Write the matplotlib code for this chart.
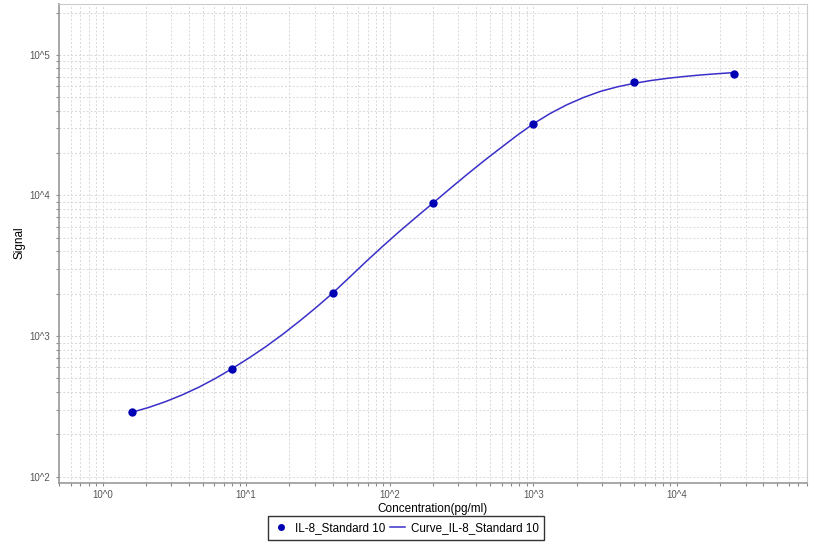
import matplotlib
matplotlib.use('Agg')
import matplotlib.pyplot as plt
from matplotlib.ticker import LogLocator, FuncFormatter, NullFormatter
import numpy as np

plt.rcParams['font.family'] = ['Liberation Sans', 'DejaVu Sans']

# standard points (concentration pg/ml, signal)
std_conc = [1.6, 8, 40, 200, 1000, 5000, 25000]
std_signal = [287, 587, 2020, 8830, 32400, 63800, 73500]

# fitted curve
curve_conc = [1.60, 2.092, 2.735, 3.577, 4.677, 6.117, 8.0, 10.46, 13.68, 17.89,
              23.39, 30.59, 40.0, 52.3, 68.4, 89.4, 117.0, 152.9, 200, 261.5,
              342, 447.2, 584.8, 764.7, 1000, 1308, 1710, 2236, 2924, 3824,
              5000, 6538, 8551, 11180, 14620, 19120, 25000]
curve_signal = [287, 310.5, 341.2, 381.1, 432.5, 500.0, 587.5, 698.2, 839.5, 1026,
                1271, 1592, 2018, 2612, 3388, 4355, 5559, 7015, 8831, 11143,
                13996, 17458, 21577, 26607, 32359, 38282, 44157, 49774, 54954, 59156,
                62661, 65615, 68077, 70146, 71945, 73451, 74817]

fig = plt.figure(figsize=(8.14, 5.45), dpi=100)
ax = fig.add_axes([59.3/814, 62.3/545, (806.7-59.3)/814, (482.7-4)/545])

ax.plot(std_conc, std_signal, 'o', color='#0000b4', markersize=5,
        label='IL-8_Standard 10', zorder=3)
ax.plot(curve_conc, curve_signal, '-', color='#3a2fc8', linewidth=1.1,
        label='Curve_IL-8_Standard 10', zorder=2)

ax.set_xscale('log')
ax.set_yscale('log')
ax.set_xlim(0.5, 80000)
ax.set_ylim(90.6, 230000)

fmt = FuncFormatter(lambda v, p: '10^%d' % round(np.log10(v)))
for axis in (ax.xaxis, ax.yaxis):
    axis.set_major_locator(LogLocator(base=10, numticks=20))
    axis.set_minor_locator(LogLocator(base=10, subs=np.arange(2, 10), numticks=20))
    axis.set_major_formatter(fmt)
    axis.set_minor_formatter(NullFormatter())

ax.grid(True, which='both', color='#d8d8d8', linestyle=(0, (2, 2)), linewidth=0.7)
ax.set_axisbelow(True)
ax.tick_params(which='both', direction='out', length=2, width=0.8, color='#888888',
               labelsize=7, labelcolor='#555555')
ax.tick_params(axis='y', pad=4.5)
ax.tick_params(axis='x', pad=3)
for side in ['left', 'bottom']:
    ax.spines[side].set_color('#999999')
    ax.spines[side].set_linewidth(1.2)
for side in ['top', 'right']:
    ax.spines[side].set_color('#cccccc')
    ax.spines[side].set_linewidth(0.8)

fig.text(20/814, 1 - 243/545, 'Signal', fontsize=8.5, rotation=90, ha='center', va='center')
fig.text(433/814, 1 - 509/545, 'Concentration(pg/ml)', fontsize=8.5, ha='center', va='center')

leg = fig.legend(loc='center', bbox_to_anchor=(406/814, 1 - 528/545), ncol=2,
                 fontsize=8.4, frameon=True, fancybox=False, edgecolor='black',
                 handlelength=1.3, handletextpad=0.5, columnspacing=0.4,
                 borderpad=0.5, markerscale=0.8)
leg.get_frame().set_linewidth(1.0)

fig.savefig('out.png', dpi=100)
